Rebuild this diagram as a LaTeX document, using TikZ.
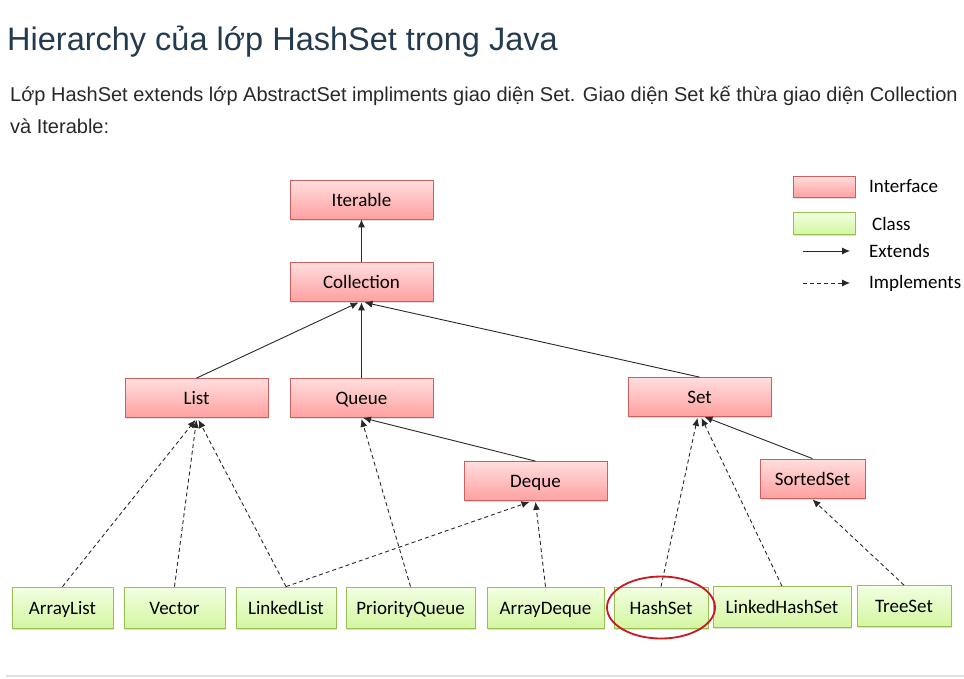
\documentclass[tikz,border=0pt]{standalone}
\usepackage{fontspec}
\setmainfont{Liberation Sans}
\newfontfamily\boxfont{Carlito}
\usetikzlibrary{arrows.meta,shadows,calc}
\definecolor{titlecol}{RGB}{36,58,78}
\definecolor{bodycol}{RGB}{40,40,40}
\definecolor{ifTop}{RGB}{255,222,222}
\definecolor{ifBot}{RGB}{255,160,160}
\definecolor{ifBorder}{RGB}{205,95,95}
\definecolor{clTop}{RGB}{242,255,226}
\definecolor{clBot}{RGB}{212,246,160}
\definecolor{clBorder}{RGB}{150,192,80}
\definecolor{hlred}{RGB}{200,25,30}
\definecolor{linecol}{RGB}{40,40,40}
\definecolor{sepcol}{RGB}{222,222,222}
\tikzset{
  boxbase/.style={draw, line width=0.8pt, font=\boxfont\fontsize{19}{22}\selectfont, inner sep=0pt,
    text height=17.5pt, text depth=4pt,
    drop shadow={opacity=0.25, shadow xshift=1pt, shadow yshift=-1.5pt}},
  iface/.style={boxbase, draw=ifBorder, top color=ifTop, bottom color=ifBot, minimum width=143pt, minimum height=39pt},
  cls/.style={boxbase, draw=clBorder, top color=clTop, bottom color=clBot, minimum height=41pt},
  ext/.style={draw=linecol, line width=0.9pt, -{Latex[length=8pt,width=7pt]}},
  impl/.style={draw=linecol, line width=0.9pt, dash pattern=on 4pt off 3pt, -{Latex[length=8pt,width=7pt]}},
  legtext/.style={anchor=west, font=\boxfont\fontsize{19}{22}\selectfont, inner sep=0pt},
}
\begin{document}
\begin{tikzpicture}[x=1pt,y=-1pt]
\useasboundingbox (0,0) rectangle (964,678);
% title and text
\node[anchor=base west, inner sep=0pt, text=titlecol, font=\fontsize{32.5}{38}\selectfont] (title) at (7,50) {Hierarchy của lớp HashSet trong Java};
\node[anchor=base west, inner sep=0pt, text=bodycol, font=\fontsize{20}{24}\selectfont] (body1) at (10,101) {Lớp HashSet extends lớp AbstractSet impliments giao diện Set. Giao diện Set kế thừa giao diện Collection};
\node[anchor=base west, inner sep=0pt, text=bodycol, font=\fontsize{20}{24}\selectfont] (body2) at (10,133) {và Iterable:};
% interfaces
\node[iface] (iter) at (361.5,199.5) {Iterable};
\node[iface] (coll) at (361.5,281.5) {Collection};
\node[iface] (list) at (196.5,398) {List};
\node[iface] (queue) at (361.5,398) {Queue};
\node[iface] (set) at (699.5,397) {Set};
\node[iface] (deque) at (535.5,481) {Deque};
\node[iface, minimum width=105pt] (sset) at (812.5,478.5) {SortedSet};
% classes
\node[cls, minimum width=101pt] (alist) at (62.5,607.5) {ArrayList};
\node[cls, minimum width=101pt] (vec) at (174.5,607.5) {Vector};
\node[cls, minimum width=100pt] (llist) at (286,607.5) {LinkedList};
\node[cls, minimum width=129pt] (pq) at (410.5,607.5) {PriorityQueue};
\node[cls, minimum width=117pt] (adq) at (545.5,607.5) {ArrayDeque};
\node[cls, minimum width=94pt] (hset) at (661,607.5) {HashSet};
\node[cls, minimum width=138pt] (lhset) at (782,607) {LinkedHashSet};
\node[cls, minimum width=94pt] (tset) at (904,606) {TreeSet};
% extends
\draw[ext] (coll.north) -- (iter.south);
\draw[ext] (list.north) -- ($(coll.south)+(-3,1)$);
\draw[ext] (queue.north) -- ($(coll.south)+(0,1)$);
\draw[ext] (set.north) -- ($(coll.south)+(3,1)$);
\draw[ext] (deque.north) -- ($(queue.south)+(1.5,0)$);
\draw[ext] (sset.north) -- ($(set.south)+(5,0)$);
% implements
\draw[impl] (alist.north) -- ($(list.south)+(-1,2)$);
\draw[impl] (vec.north) -- ($(list.south)+(0,2)$);
\draw[impl] (llist.north) -- ($(list.south)+(2,2)$);
\draw[impl] (llist.north) -- ($(deque.south)+(-6,1)$);
\draw[impl] (pq.north) -- ($(queue.south)+(0,1)$);
\draw[impl] (adq.north) -- ($(deque.south)+(0,1)$);
\draw[impl] (hset.north) -- ($(set.south)+(-2,1)$);
\draw[impl] (lhset.north) -- ($(set.south)+(2,1)$);
\draw[impl] (tset.north) -- ($(sset.south)+(0,1)$);
% highlight
\draw[hlred, line width=1.8pt] (hset.center) ellipse [x radius=54, y radius=31];
% legend
\node[boxbase, draw=ifBorder, top color=ifTop, bottom color=ifBot, minimum width=62pt, minimum height=21pt, text height=0pt, text depth=0pt] (legif) at (824,186.5) {};
\node[boxbase, draw=clBorder, top color=clTop, bottom color=clBot, minimum width=62pt, minimum height=22pt, text height=0pt, text depth=0pt] (legcl) at (824,223) {};
\node[legtext] (legiftxt) at (869,186) {Interface};
\node[legtext] (legcltxt) at (872,224) {Class};
\coordinate (e1) at (803,251);
\coordinate (e2) at (850,251);
\coordinate (i1) at (803,283);
\coordinate (i2) at (850,283);
\draw[ext] (e1) -- (e2);
\draw[impl] (i1) -- (i2);
\node[legtext] (legext) at (869,251) {Extends};
\node[legtext] (legimpl) at (869,283) {Implements};
% separator
\coordinate (s1) at (6,676);
\coordinate (s2) at (964,676);
\draw[sepcol, line width=1.2pt] (s1) -- (s2);
\end{tikzpicture}
\end{document}
